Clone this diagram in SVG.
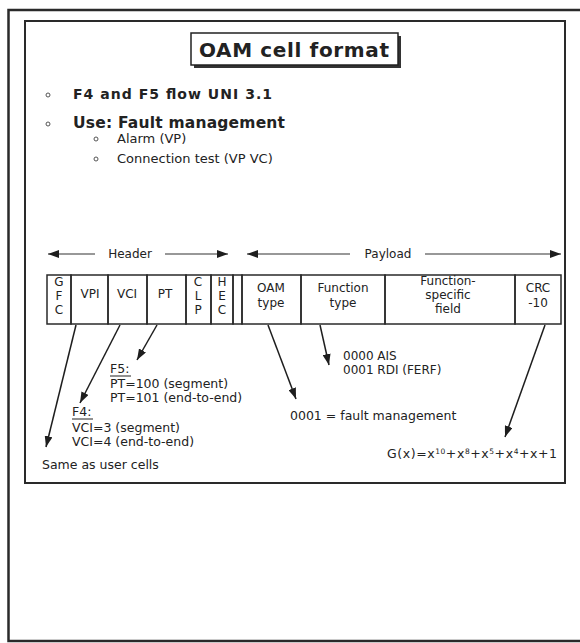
<svg xmlns="http://www.w3.org/2000/svg" width="580" height="643" viewBox="0 0 580 643">
<defs>
<marker id="ah" markerUnits="userSpaceOnUse" markerWidth="11" markerHeight="8" refX="11" refY="4" orient="auto">
<path d="M0,0 L11,4 L0,8 z" fill="#1e1e1e"/>
</marker>
<style>
text{font-family:"DejaVu Sans","Liberation Sans",Arial,sans-serif;fill:#222;}
.b{font-weight:bold;}
.t12{font-size:12px;}
.t11{font-size:12.5px;}
.c{text-anchor:middle;}
.cell{fill:none;stroke:#2a2a2a;stroke-width:1.5;}
.conn{fill:none;stroke:#1e1e1e;stroke-width:1.5;marker-end:url(#ah);}
.rule{fill:none;stroke:#333;stroke-width:1.2;marker-end:url(#ah);}
.frame{fill:none;stroke:#2a2a2a;}
.bul{fill:none;stroke:#555;stroke-width:1;}
</style>
</defs>
<rect width="580" height="643" fill="#fff"/>

<g id="frames">
<rect class="frame" x="8.5" y="10" width="575" height="631" stroke-width="2.5"/>
<rect class="frame" x="25" y="21" width="540" height="462" stroke-width="2"/>
</g>

<g id="title">
<rect x="194" y="36" width="207" height="32" fill="#333"/>
<rect x="191" y="33" width="207" height="32" fill="#fff" stroke="#222" stroke-width="1.5"/>
<text class="b c" x="294" y="57" font-size="20" font-family="Liberation Sans, Arial, sans-serif" textLength="190" lengthAdjust="spacing">OAM cell format</text>
</g>

<g id="bullets">
<circle class="bul" cx="48" cy="95" r="2"/>
<text class="b" x="73" y="99" font-size="14" textLength="199" lengthAdjust="spacing">F4 and F5 flow UNI 3.1</text>
<circle class="bul" cx="48" cy="124" r="2"/>
<text class="b" x="73" y="128" font-size="15.5" textLength="212" lengthAdjust="spacing">Use: Fault management</text>
<circle class="bul" cx="96" cy="139" r="2"/>
<text x="117" y="143" font-size="13">Alarm (VP)</text>
<circle class="bul" cx="96" cy="159" r="2"/>
<text x="117" y="163" font-size="13">Connection test (VP VC)</text>
</g>

<g id="ruler">
<line class="rule" x1="95" y1="254" x2="48" y2="254"/>
<text class="t12 c" x="130" y="258">Header</text>
<line class="rule" x1="165" y1="254" x2="228" y2="254"/>
<line class="rule" x1="350" y1="254" x2="247" y2="254"/>
<text class="t12 c" x="388" y="258">Payload</text>
<line class="rule" x1="425" y1="254" x2="561" y2="254"/>
</g>

<g id="cells">
<g id="cell-gfc">
<rect class="cell" x="47" y="275" width="24" height="49"/>
<text class="t12 c" x="59" y="286">G</text>
<text class="t12 c" x="59" y="300">F</text>
<text class="t12 c" x="59" y="314">C</text>
</g>
<g id="cell-vpi">
<rect class="cell" x="71" y="275" width="37" height="49"/>
<text class="t12 c" x="90" y="298">VPI</text>
</g>
<g id="cell-vci">
<rect class="cell" x="108" y="275" width="39" height="49"/>
<text class="t12 c" x="127" y="298">VCI</text>
</g>
<g id="cell-pt">
<rect class="cell" x="147" y="275" width="39" height="49"/>
<text class="t12 c" x="165" y="298">PT</text>
</g>
<g id="cell-clp">
<rect class="cell" x="186" y="275" width="25" height="49"/>
<text class="t12 c" x="198" y="286">C</text>
<text class="t12 c" x="198" y="300">L</text>
<text class="t12 c" x="198" y="314">P</text>
</g>
<g id="cell-hec">
<rect class="cell" x="211" y="275" width="22" height="49"/>
<text class="t12 c" x="222" y="286">H</text>
<text class="t12 c" x="222" y="300">E</text>
<text class="t12 c" x="222" y="314">C</text>
</g>
<g id="cell-gap">
<rect class="cell" x="233" y="275" width="9" height="49"/>
</g>
<g id="cell-oam">
<rect class="cell" x="242" y="275" width="59" height="49"/>
<text class="t12 c" x="271" y="292">OAM</text>
<text class="t12 c" x="271" y="307">type</text>
</g>
<g id="cell-ftype">
<rect class="cell" x="301" y="275" width="84" height="49"/>
<text class="t12 c" x="343" y="292">Function</text>
<text class="t12 c" x="343" y="307">type</text>
</g>
<g id="cell-fsf">
<rect class="cell" x="385" y="275" width="130" height="49"/>
<text class="t12 c" x="448" y="285">Function-</text>
<text class="t12 c" x="448" y="299">specific</text>
<text class="t12 c" x="448" y="313">field</text>
</g>
<g id="cell-crc">
<rect class="cell" x="515" y="275" width="46" height="49"/>
<text class="t12 c" x="538" y="292">CRC</text>
<text class="t12 c" x="538" y="307">-10</text>
</g>
</g>

<g id="connectors">
<line class="conn" x1="76" y1="325" x2="46" y2="447"/>
<line class="conn" x1="120" y1="325" x2="80" y2="403"/>
<line class="conn" x1="157" y1="325" x2="137" y2="360"/>
<line class="conn" x1="268" y1="325" x2="296" y2="399"/>
<line class="conn" x1="320" y1="325" x2="329" y2="365"/>
<line class="conn" x1="545" y1="325" x2="505" y2="437"/>
</g>

<g id="note-f5">
<text class="t11" x="110" y="373">F5:</text>
<line x1="110" y1="376" x2="131" y2="376" stroke="#222" stroke-width="1"/>
<text class="t11" x="110" y="388">PT=100 (segment)</text>
<text class="t11" x="110" y="402">PT=101 (end-to-end)</text>
</g>

<g id="note-f4">
<text class="t11" x="72" y="416">F4:</text>
<line x1="72" y1="419" x2="93" y2="419" stroke="#222" stroke-width="1"/>
<text class="t11" x="72" y="432">VCI=3 (segment)</text>
<text class="t11" x="72" y="446">VCI=4 (end-to-end)</text>
</g>

<g id="note-gfc">
<text class="t11" x="42" y="469">Same as user cells</text>
</g>

<g id="note-ftype">
<text x="343" y="360" font-size="12">0000 AIS</text>
<text x="343" y="374" font-size="12">0001 RDI (FERF)</text>
</g>

<g id="note-oam">
<text class="t11" x="290" y="420">0001 = fault management</text>
</g>

<g id="note-crc">
<text class="t11" x="387" y="458" textLength="170" lengthAdjust="spacing">G(x)=x<tspan dy="-4" font-size="7.5">10</tspan><tspan dy="4">+x</tspan><tspan dy="-4" font-size="7.5">8</tspan><tspan dy="4">+x</tspan><tspan dy="-4" font-size="7.5">5</tspan><tspan dy="4">+x</tspan><tspan dy="-4" font-size="7.5">4</tspan><tspan dy="4">+x+1</tspan></text>
</g>
</svg>
